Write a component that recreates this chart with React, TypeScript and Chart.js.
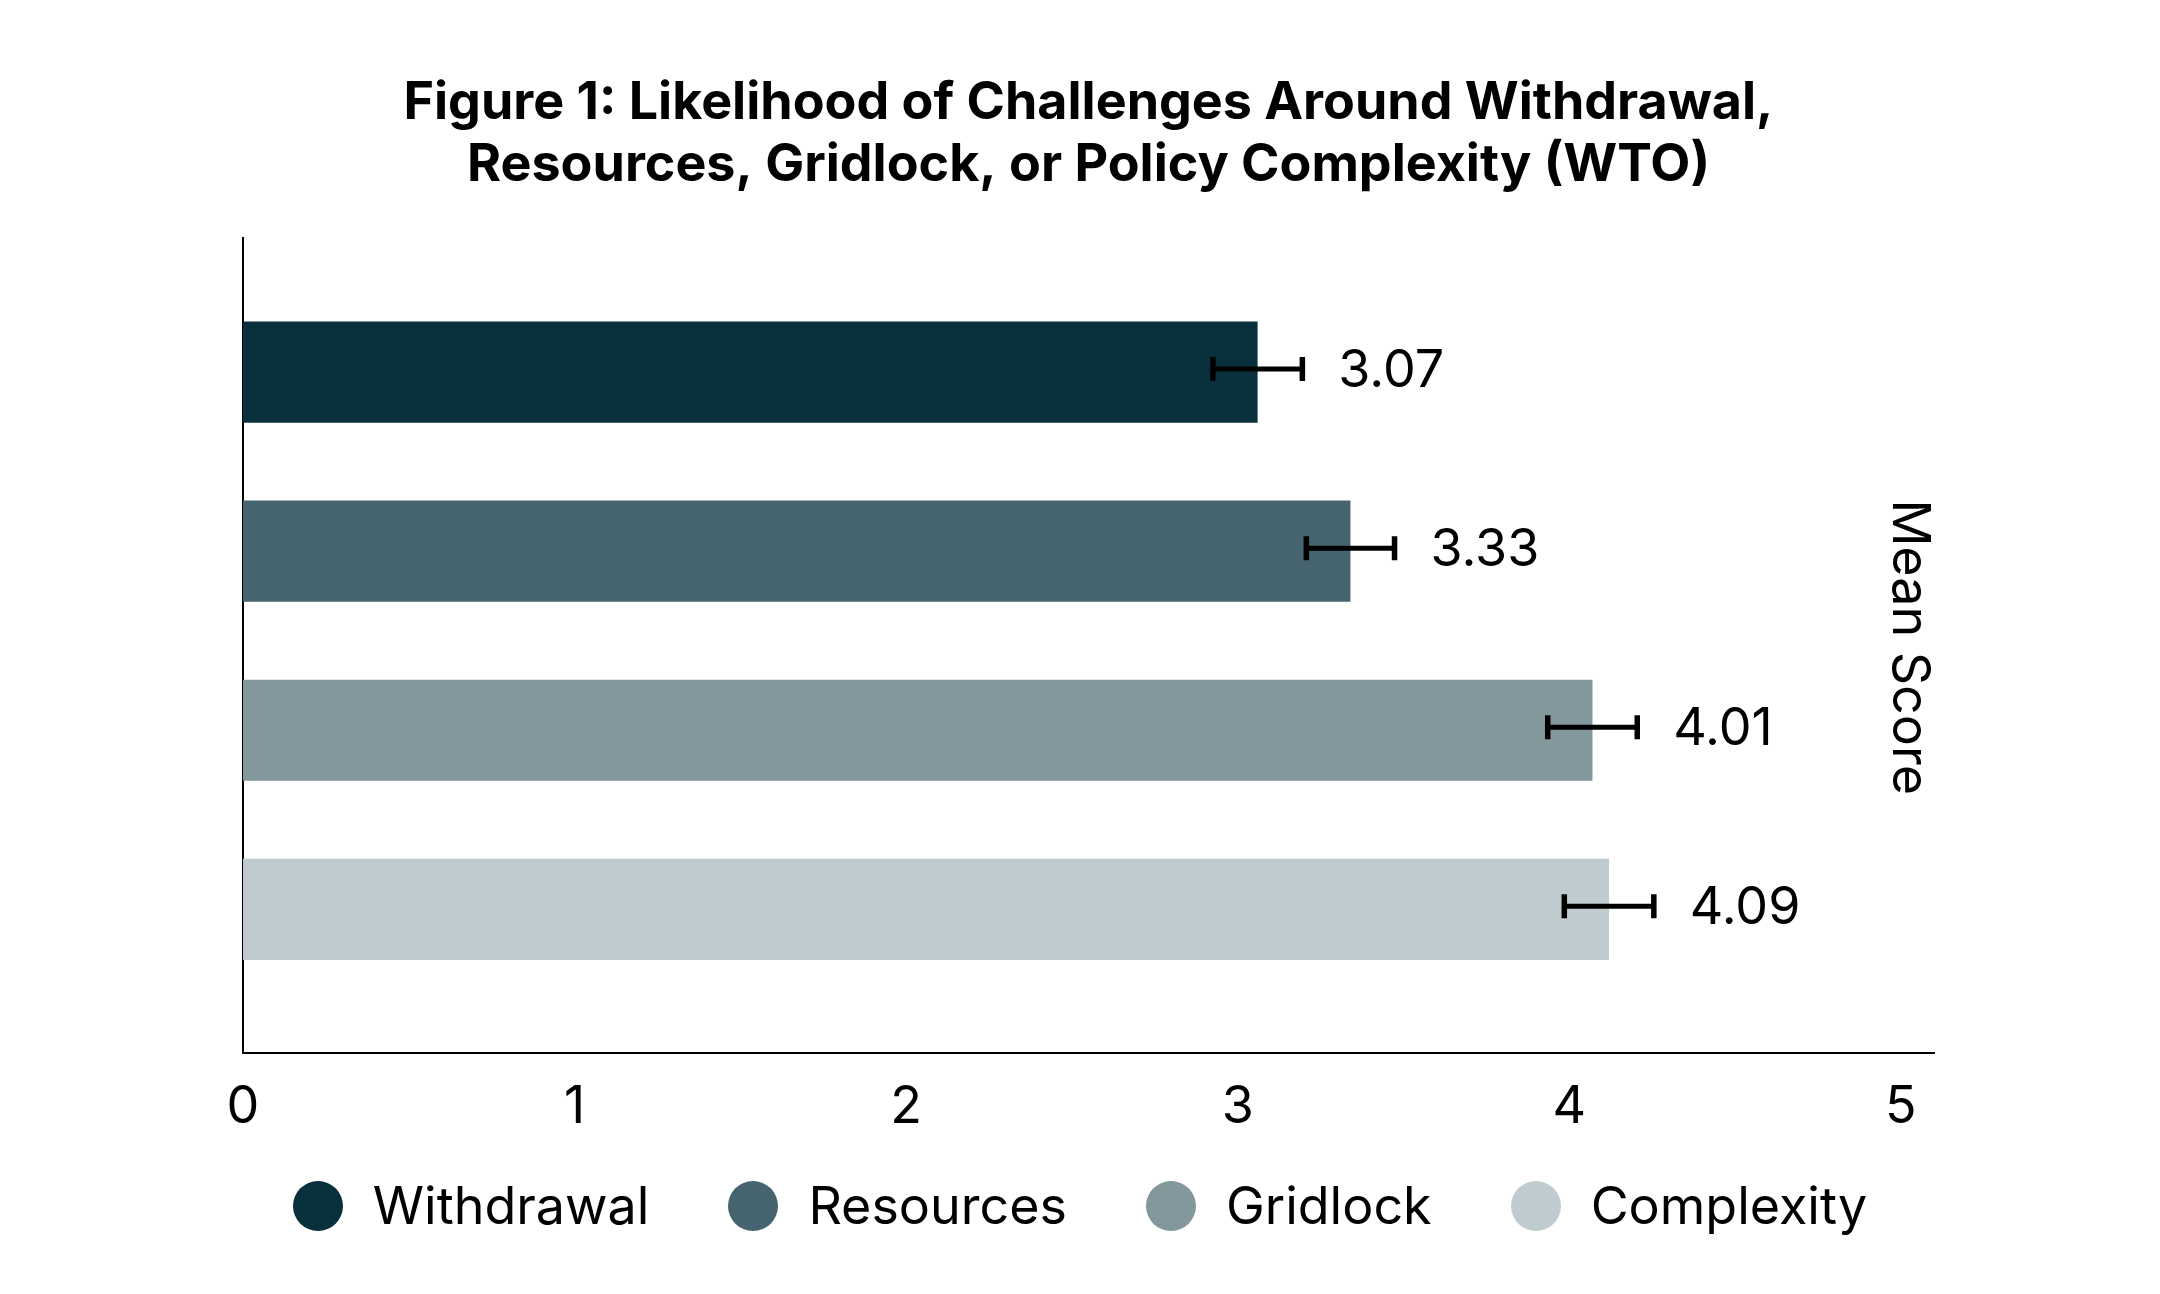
import React, { useRef, useEffect } from "react";
import { Chart, registerables } from "chart.js";

Chart.register(...registerables);

const categories = ["Withdrawal", "Resources", "Gridlock", "Complexity"];
// bar lengths as drawn, and the figures printed beside them
const meanScores = [3.06, 3.34, 4.07, 4.12];
const scoreLabels = ["3.07", "3.33", "4.01", "4.09"];
const errorMargins = [0.135, 0.133, 0.135, 0.135];
const colors = ["#08303D", "#45646F", "#82989D", "#C0CBD0"];
const xTicks = [0, 1, 2, 3, 4, 5];

const titleLines = [
  "Figure 1: Likelihood of Challenges Around Withdrawal,",
  "Resources, Gridlock, or Policy Complexity (WTO)",
];

const FONT = "Inter, 'Noto Sans', sans-serif";

const annotations = {
  id: "annotations",
  afterDatasetsDraw(chart: Chart) {
    const { ctx, chartArea, scales } = chart;
    const x = scales.x;
    const y = scales.y;
    ctx.save();
    ctx.strokeStyle = "#000";
    ctx.fillStyle = "#000";

    meanScores.forEach((v, i) => {
      const cy = y.getPixelForValue(i) - 3;
      const lo = x.getPixelForValue(v - errorMargins[i]);
      const hi = x.getPixelForValue(v + errorMargins[i]);

      // error bar
      ctx.lineWidth = 5;
      ctx.beginPath();
      ctx.moveTo(lo, cy);
      ctx.lineTo(hi, cy);
      ctx.stroke();
      ctx.lineWidth = 5.5;
      ctx.beginPath();
      ctx.moveTo(lo, cy - 12);
      ctx.lineTo(lo, cy + 12);
      ctx.moveTo(hi, cy - 12);
      ctx.lineTo(hi, cy + 12);
      ctx.stroke();

      // value label
      ctx.font = `52px ${FONT}`;
      ctx.textAlign = "left";
      ctx.textBaseline = "middle";
      ctx.fillText(scoreLabels[i], hi + 36, cy + 2);
    });

    // axis title drawn inside the plot, rotated
    ctx.translate(chartArea.right - 25, (chartArea.top + chartArea.bottom) / 2 + 2);
    ctx.rotate(Math.PI / 2);
    ctx.font = `52px ${FONT}`;
    ctx.textAlign = "center";
    ctx.textBaseline = "middle";
    ctx.fillText("Mean Score", 0, 0);
    ctx.restore();
  },
};

function MeanScoreChart() {
  const chartRef = useRef<HTMLCanvasElement | null>(null);
  const chartInstance = useRef<Chart | null>(null);

  useEffect(() => {
    if (!chartRef.current) return;
    if (chartInstance.current) {
      chartInstance.current.destroy();
    }
    const ctx = chartRef.current.getContext("2d");
    if (!ctx) return;

    chartInstance.current = new Chart(ctx, {
      type: "bar",
      data: {
        datasets: [
          {
            label: "Mean Score",
            data: meanScores.map((v, i) => ({ x: v, y: i })),
            backgroundColor: colors,
            borderWidth: 0,
            barPercentage: 0.565,
            categoryPercentage: 1,
          },
        ],
      },
      options: {
        indexAxis: "y",
        responsive: true,
        maintainAspectRatio: false,
        animation: false,
        layout: {
          padding: { left: 243, right: 226, top: 0, bottom: 131 },
        },
        plugins: {
          legend: { display: false },
          tooltip: { enabled: false },
          title: {
            display: true,
            text: titleLines,
            color: "#000",
            font: { family: FONT, size: 52, weight: "bold", lineHeight: 1.2 },
            padding: { top: 72, bottom: 41 },
          },
        },
        scales: {
          x: {
            type: "linear",
            min: 0,
            max: 5.1,
            grid: { display: false, drawTicks: false },
            border: { display: true, color: "#000", width: 2 },
            afterBuildTicks: (scale) => {
              scale.ticks = xTicks.map((value) => ({ value }));
            },
            ticks: {
              color: "#000",
              padding: 24,
              font: { family: FONT, size: 52 },
            },
          },
          y: {
            type: "linear",
            min: -0.75,
            max: 3.8,
            reverse: true,
            offset: false,
            grid: { display: false, drawTicks: false, offset: false },
            border: { display: true, color: "#000", width: 2 },
            afterBuildTicks: (scale) => {
              scale.ticks = categories.map((_, i) => ({ value: i }));
            },
            ticks: { display: false },
          },
        },
      },
      plugins: [annotations],
    });

    return () => {
      if (chartInstance.current) {
        chartInstance.current.destroy();
        chartInstance.current = null;
      }
    };
  }, []);

  return (
    <div style={{ position: "absolute", inset: 0 }}>
      <canvas ref={chartRef} />
    </div>
  );
}

export default function App() {
  return (
    <div
      style={{
        position: "fixed",
        top: 0,
        left: 0,
        width: 2160,
        height: 1294,
        background: "#fff",
      }}
    >
      <MeanScoreChart />
      <div
        style={{
          position: "absolute",
          top: 1181,
          left: 0,
          width: 2160,
          display: "flex",
          justifyContent: "center",
          gap: 79,
          fontFamily: FONT,
          fontSize: 52,
          lineHeight: "50px",
          color: "#000",
        }}
      >
        {categories.map((name, i) => (
          <div key={name} style={{ display: "flex", alignItems: "center" }}>
            <span
              style={{
                width: 50,
                height: 50,
                borderRadius: "50%",
                background: colors[i],
                marginRight: 30,
              }}
            />
            <span>{name}</span>
          </div>
        ))}
      </div>
    </div>
  );
}
